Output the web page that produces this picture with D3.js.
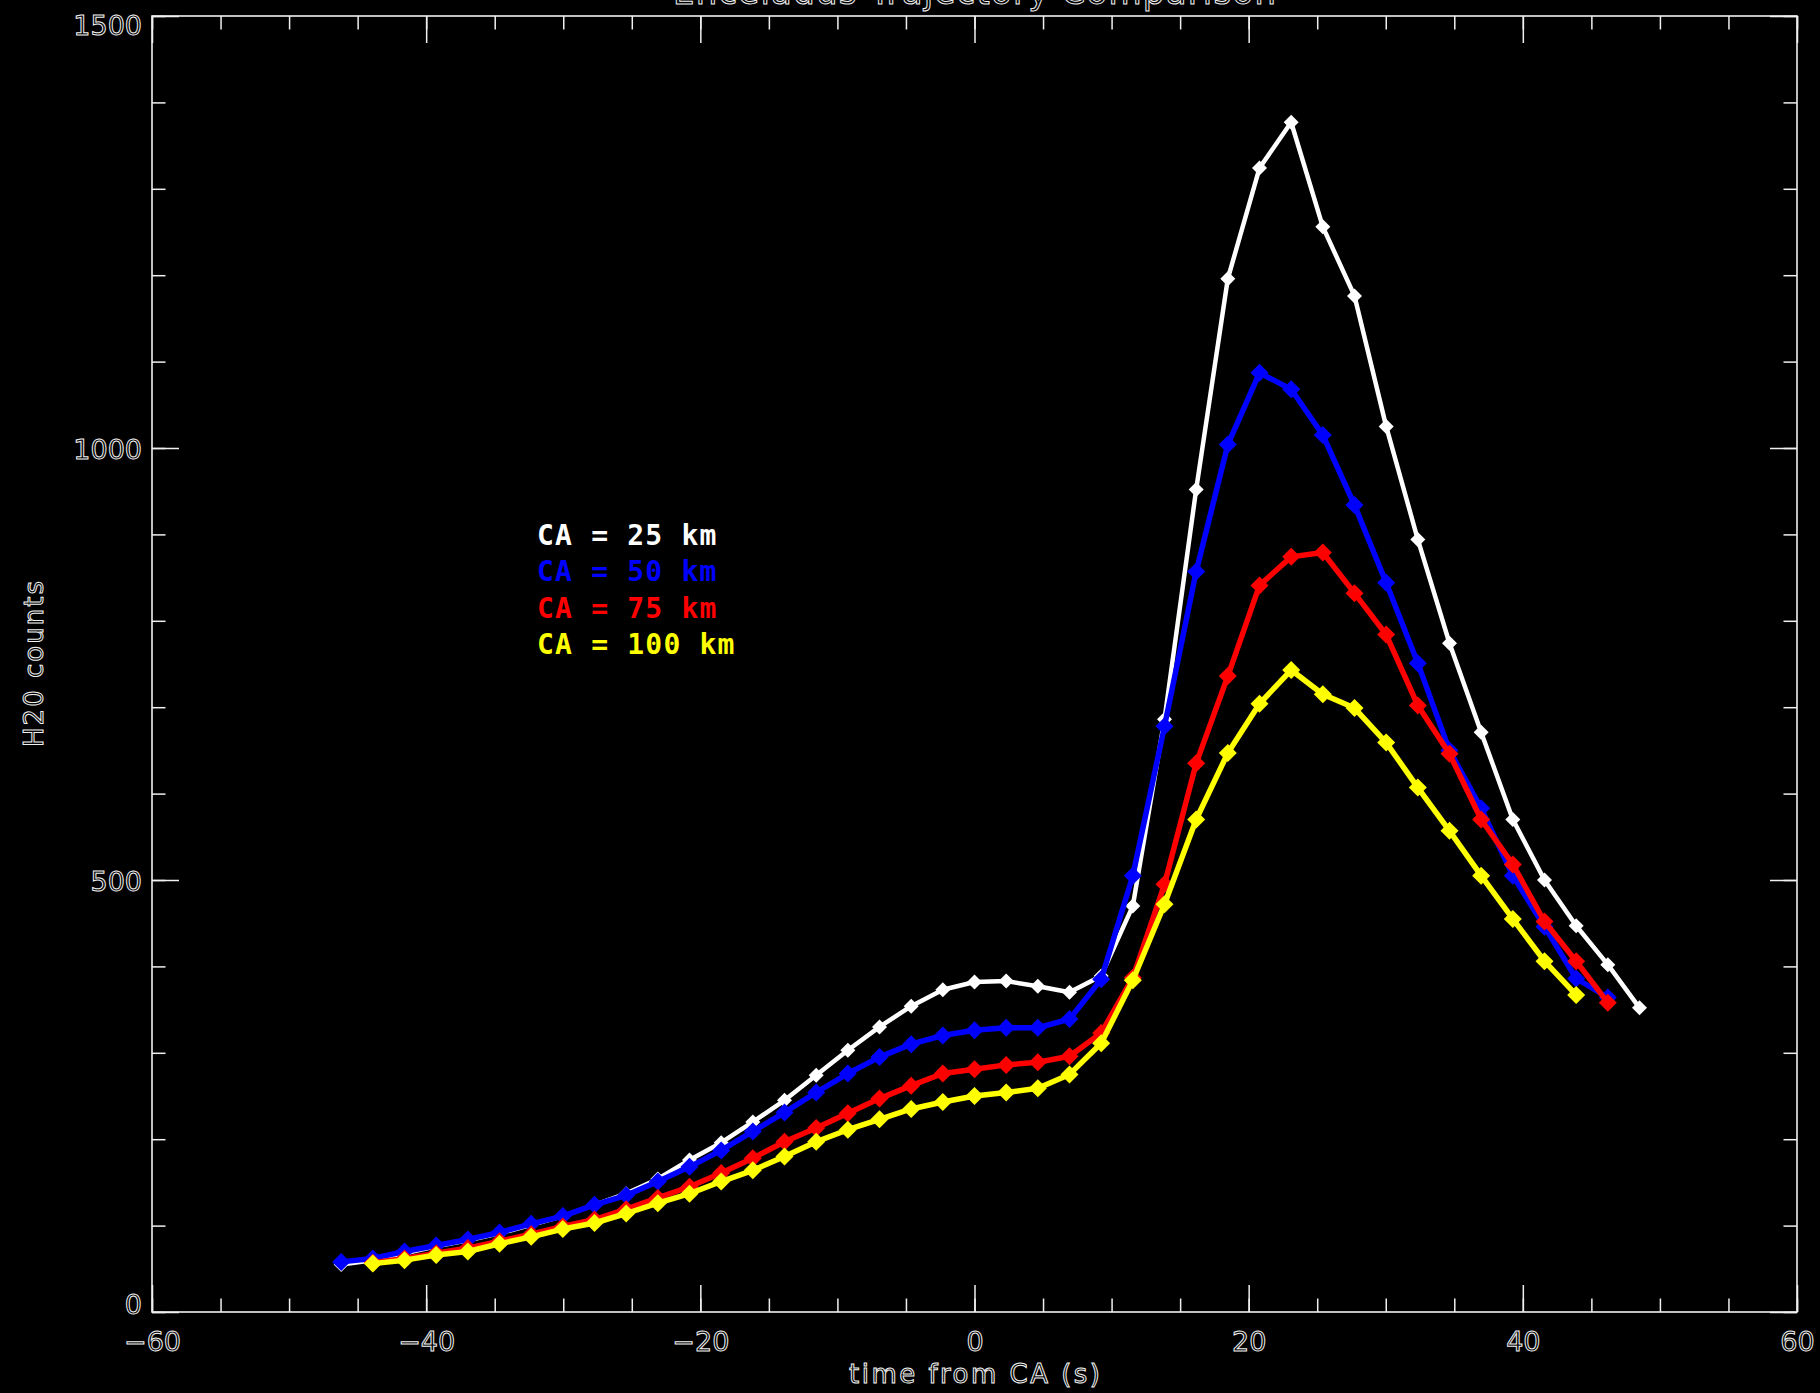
<!DOCTYPE html>
<html>
<head>
<meta charset="utf-8">
<script src="https://cdn.jsdelivr.net/npm/d3@7"></script>
<style>
  body { margin: 0; background: #000; }
  .hershey { fill: none; stroke: #f0f0f0; stroke-width: 1; font-family: "DejaVu Sans", sans-serif; }
  .legend text { font-family: "DejaVu Sans Mono", monospace; font-size: 28px; font-weight: bold; letter-spacing: 1.2px; }
</style>
</head>
<body>
<svg id="canvas" width="1820" height="1393"></svg>
<script>
// time from closest approach (s)
let times = [-46.2, -43.89, -41.58, -39.27, -36.96, -34.65, -32.34, -30.03, -27.72, -25.41,
             -23.1, -20.79, -18.48, -16.17, -13.86, -11.55, -9.24, -6.93, -4.62, -2.31,
             0, 2.31, 4.62, 6.93, 9.24, 11.55, 13.86, 16.17, 18.48, 20.79,
             23.1, 25.41, 27.72, 30.03, 32.34, 34.65, 36.96, 39.27, 41.58, 43.89,
             46.2, 48.51];

// H2O counts per trajectory, first index of each series into times
let ca25 = [55, 60, 68, 76, 83, 91, 101, 111, 124, 137,
            154, 176, 196, 220, 245, 274, 303, 330, 354, 373,
            382, 383, 377, 370, 389, 470, 686, 952, 1196, 1324,
            1377, 1256, 1176, 1025, 894, 774, 671, 570, 500, 447,
            402, 352];
let ca50 = [58, 62, 70, 77, 84, 92, 102, 111, 124, 135,
            151, 168, 187, 209, 231, 254, 276, 295, 310, 320,
            326, 329, 329, 339, 385, 505, 678, 857, 1004, 1087,
            1068, 1015, 934, 844, 751, 650, 583, 505, 446, 386,
            364];
let ca75 = [57, 62, 68, 74, 82, 90, 99, 107, 119,
            132, 145, 161, 178, 197, 213, 230, 247, 262, 276,
            281, 286, 289, 296, 323, 387, 495, 635, 736, 841,
            874, 879, 832, 784, 702, 646, 570, 518, 452, 406,
            358];
let ca100 = [56, 60, 66, 70, 79, 87, 96, 103, 114,
             126, 137, 151, 164, 180, 197, 211, 223, 235, 243,
             250, 254, 259, 275, 311, 384, 472, 570, 647, 704,
             743, 715, 699, 659, 607, 557, 505, 455, 406, 367];

let seriesNames = ["CA = 25 km", "CA = 50 km", "CA = 75 km", "CA = 100 km"];
let seriesColors = ["#ffffff", "#0000ff", "#ff0000", "#ffff00"];
let seriesValues = [ca25, ca50, ca75, ca100];
let seriesStart = [0, 0, 1, 1];

let xMajor = [-60, -40, -20, 0, 20, 40, 60];
let yMajor = [0, 500, 1000, 1500];

let margin = {left: 152, right: 23, top: 16, bottom: 81};
let width = 1820, height = 1393;
let plotW = width - margin.left - margin.right;
let plotH = height - margin.top - margin.bottom;

let canvas = d3.select("#canvas");

let xScale = d3.scaleLinear().domain([-60, 60]).range([margin.left, margin.left + plotW]);
let yScale = d3.scaleLinear().domain([0, 1500]).range([margin.top + plotH, margin.top]);

let drawAxes = () => {
    let major = 27, minor = 13.5;
    let xMinor = d3.range(-60, 61, 5);
    let yMinor = d3.range(0, 1501, 100);

    let addAxis = (axis, transform) => {
        let g = canvas.append("g")
                      .attr("transform", transform)
                      .attr("color", "#f0f0f0")
                      .call(axis);
        g.select(".domain").remove();
        g.selectAll(".tick line").attr("stroke-width", 1.5);
        return g;
    };

    // minor ticks all four sides
    addAxis(d3.axisBottom(xScale).tickValues(xMinor).tickSize(-minor).tickFormat(""), `translate(0,${yScale(0)})`);
    addAxis(d3.axisTop(xScale).tickValues(xMinor).tickSize(-minor).tickFormat(""), `translate(0,${yScale(1500)})`);
    addAxis(d3.axisLeft(yScale).tickValues(yMinor).tickSize(-minor).tickFormat(""), `translate(${xScale(-60)},0)`);
    addAxis(d3.axisRight(yScale).tickValues(yMinor).tickSize(-minor).tickFormat(""), `translate(${xScale(60)},0)`);

    // major ticks
    let bottom = addAxis(d3.axisBottom(xScale).tickValues(xMajor).tickSize(-major).tickFormat(d => d < 0 ? "\u2212" + (-d) : d), `translate(0,${yScale(0)})`);
    addAxis(d3.axisTop(xScale).tickValues(xMajor).tickSize(-major).tickFormat(""), `translate(0,${yScale(1500)})`);
    let left = addAxis(d3.axisLeft(yScale).tickValues(yMajor).tickSize(-major).tickPadding(10).tickFormat(d3.format("d")), `translate(${xScale(-60)},0)`);
    addAxis(d3.axisRight(yScale).tickValues(yMajor).tickSize(-major).tickFormat(""), `translate(${xScale(60)},0)`);

    bottom.selectAll("text")
          .attr("class", "hershey")
          .attr("y", 39).attr("dy", 0)
          .style("font-size", "27px");
    left.selectAll("text")
        .attr("class", "hershey")
        .attr("dy", d => d === 0 ? 1 : (d === 1500 ? 18 : 10))
        .style("font-size", "27px");

    // frame
    canvas.append("rect")
          .attr("x", xScale(-60)).attr("y", yScale(1500))
          .attr("width", xScale(60) - xScale(-60))
          .attr("height", yScale(0) - yScale(1500))
          .attr("fill", "none")
          .attr("stroke", "#f0f0f0")
          .attr("stroke-width", 1.6);

    // titles
    let midX = (xScale(-60) + xScale(60)) / 2;
    canvas.append("text")
          .attr("class", "hershey")
          .attr("x", midX).attr("y", 4)
          .attr("text-anchor", "middle")
          .attr("textLength", 603)
          .style("font-size", "34px")
          .text("Enceladus Trajectory Comparison");
    canvas.append("text")
          .attr("class", "hershey")
          .attr("x", midX).attr("y", 1383)
          .attr("text-anchor", "middle")
          .attr("textLength", 251)
          .style("font-size", "26px")
          .text("time from CA (s)");
    canvas.append("text")
          .attr("class", "hershey")
          .attr("transform", `translate(43,${(yScale(0) + yScale(1500)) / 2}) rotate(-90)`)
          .attr("text-anchor", "middle")
          .attr("textLength", 166)
          .style("font-size", "26px")
          .text("H20 counts");
};

let drawSeries = () => {
    let line = d3.line().x(d => xScale(d.t)).y(d => yScale(d.v));

    seriesValues.forEach((values, i) => {
        let points = values.map((v, j) => ({t: times[seriesStart[i] + j], v: v}));
        let color = seriesColors[i];
        let r = i === 0 ? 7.5 : 9;
        let g = canvas.append("g");
        g.append("path")
         .datum(points)
         .attr("d", line)
         .attr("fill", "none")
         .attr("stroke", color)
         .attr("stroke-width", i === 0 ? 4.5 : 5.5)
         .attr("stroke-linejoin", "round");
        g.selectAll("path.marker")
         .data(points)
         .enter()
         .append("path")
         .attr("class", "marker")
         .attr("d", `M0,${-r}L${r},0L0,${r}L${-r},0Z`)
         .attr("transform", d => `translate(${xScale(d.t)},${yScale(d.v)})`)
         .attr("fill", color);
    });
};

let drawLegend = () => {
    let legend = canvas.append("g").attr("class", "legend");
    legend.selectAll("text")
          .data(seriesNames)
          .enter()
          .append("text")
          .attr("x", 537)
          .attr("y", (d, i) => 545 + i * 36.3)
          .attr("fill", (d, i) => seriesColors[i])
          .text(d => d);
};

drawAxes();
drawSeries();
drawLegend();
</script>
</body>
</html>
